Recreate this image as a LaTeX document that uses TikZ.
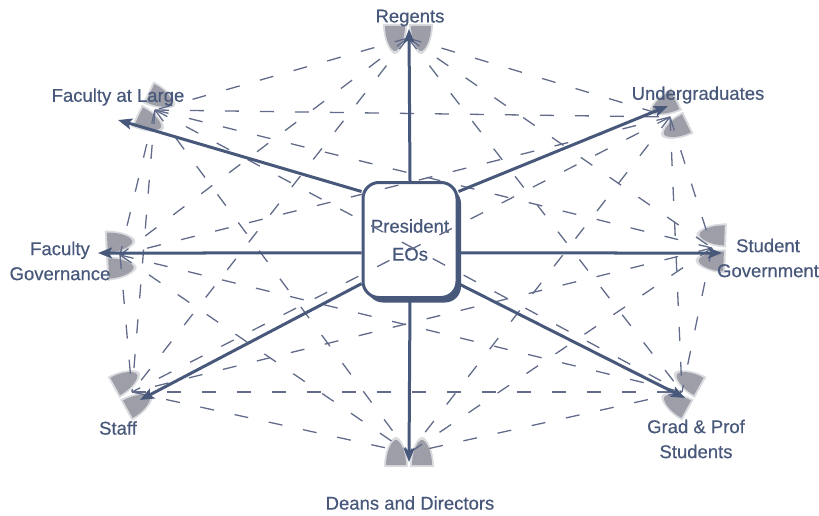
\documentclass[tikz,border=0pt]{standalone}
\usepackage{fontspec}
\setmainfont[FakeBold=0.5]{Liberation Sans}
\usetikzlibrary{arrows.meta,shadows}
\definecolor{ink}{RGB}{72,88,122}
\definecolor{dashc}{RGB}{98,108,138}
\definecolor{folkc}{RGB}{150,152,162}
\begin{document}
\begin{tikzpicture}[x=1pt,y=-1pt,
  lbl/.style={text=ink, font=\fontsize{18.5}{25}\selectfont, align=center, inner sep=0pt},
  spoke/.style={draw=ink, line width=3pt, -{Stealth[length=14pt,width=11pt,inset=3pt]}},
  link/.style={draw=dashc, line width=1.3pt, dash pattern=on 14pt off 21pt},
  centerbox/.style={draw=ink, line width=3pt, rounded corners=16pt, fill=white,
    minimum width=94pt, minimum height=115pt, text=ink, align=center,
    font=\fontsize{18.5}{28}\selectfont, inner sep=0pt,
    drop shadow={shadow xshift=4pt, shadow yshift=-5pt, fill=ink, opacity=1}},
  folks/.pic={
    \fill[folkc, opacity=.35] (-25,14) .. controls (-25,-2) and (-18,-16) .. (-13,-16) .. controls (-8,-16) and (-1,-2) .. (-1,14) -- cycle;
    \fill[folkc, opacity=.35] (1,14) .. controls (1,-2) and (8,-16) .. (13,-16) .. controls (18,-16) and (25,-2) .. (25,14) -- cycle;
    \fill[folkc, opacity=.9] (-23,12) .. controls (-23,-2) and (-17,-13) .. (-13,-13) .. controls (-9,-13) and (-3,-2) .. (-3,12) -- cycle;
    \fill[folkc, opacity=.9] (3,12) .. controls (3,-2) and (9,-13) .. (13,-13) .. controls (17,-13) and (23,-2) .. (23,12) -- cycle;
  }
]
\useasboundingbox (0,0) rectangle (819,516);

% icon centres
\coordinate (iR) at (408,38);
\coordinate (iFL) at (155,110);
\coordinate (iU) at (670,117);
\coordinate (iFG) at (120,255);
\coordinate (iSG) at (712,248);
\coordinate (iS) at (132,392);
\coordinate (iG) at (682,392);
\coordinate (iD) at (409,453);

% arrow tips
\coordinate (tR) at (409,29);
\coordinate (tFL) at (118,120);
\coordinate (tU) at (668,106);
\coordinate (tFG) at (98,253);
\coordinate (tSG) at (722,253);
\coordinate (tS) at (140,400);
\coordinate (tG) at (685,398);
\coordinate (tD) at (409,462);

% icons
\pic[rotate=180] at (iR) {folks};
\pic[rotate=-116] at (iFL) {folks};
\pic[rotate=116] at (iU) {folks};
\pic[rotate=-87] at (iFG) {folks};
\pic[rotate=88] at (iSG) {folks};
\pic[rotate=-61] at (iS) {folks};
\pic[rotate=61] at (iG) {folks};
\pic at (iD) {folks};

% central box
\node[centerbox] (P) at (410,240) {President\\EOs};

% dashed links among the groups
\foreach \a/\b in {iR/iFL, iR/iU, iR/iFG, iR/iSG, iR/iS, iR/iG,
  iFL/iU, iFL/iFG, iFL/iSG, iFL/iS, iFL/iG, iFL/iD,
  iU/iFG, iU/iSG, iU/iS, iU/iG, iU/iD,
  iFG/iS, iFG/iG, iFG/iD,
  iSG/iS, iSG/iG, iSG/iD,
  iS/iG, iS/iD, iG/iD}
  \draw[link] (\a) -- (\b);

% spokes
\draw[spoke] (P.north) -- (tR);
\draw[spoke] (P.135) -- (tFL);
\draw[spoke] (P.45) -- (tU);
\draw[spoke] (P.195) -- (tFG);
\draw[spoke] (P.345) -- (tSG);
\draw[spoke] (P.222) -- (tS);
\draw[spoke] (P.318) -- (tG);
\draw[spoke] (P.south) -- (tD);

% labels
\node[lbl] (lR) at (410,18) {Regents};
\node[lbl] (lFL) at (118,97) {Faculty at Large};
\node[lbl] (lU) at (698,95) {Undergraduates};
\node[lbl] (lFG) at (60,261) {Faculty\\Governance};
\node[lbl] (lSG) at (768,258) {Student\\Government};
\node[lbl] (lS) at (118,428) {Staff};
\node[lbl] (lG) at (696,439) {Grad \& Prof\\Students};
\node[lbl] (lD) at (410,503) {Deans and Directors};
\end{tikzpicture}
\end{document}
